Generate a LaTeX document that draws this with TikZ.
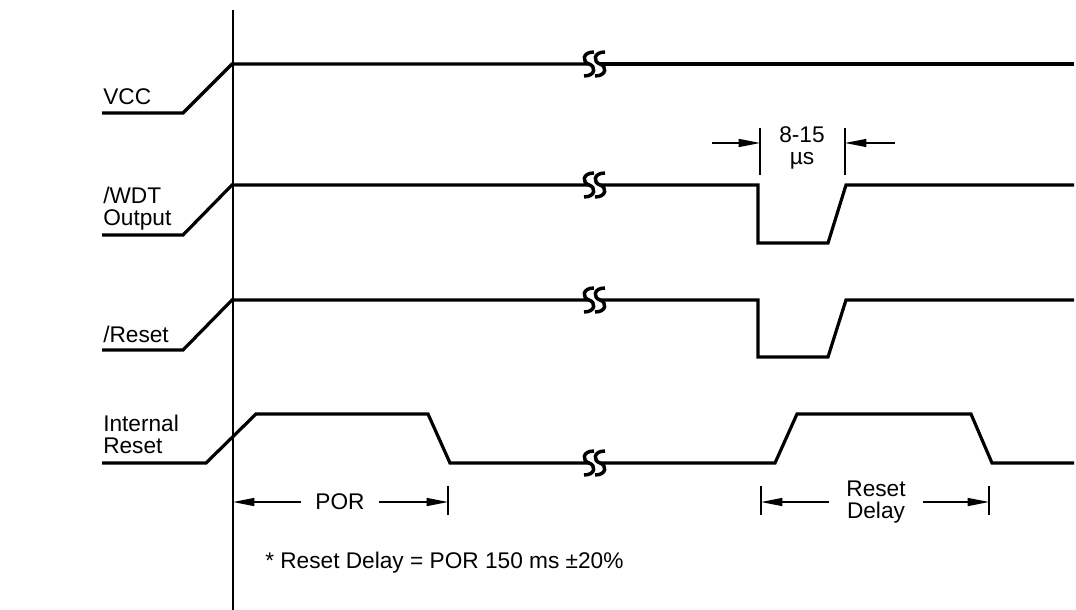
\documentclass[tikz,border=0pt]{standalone}
\usepackage{fontspec}
\setmainfont{Liberation Sans}
\usetikzlibrary{arrows.meta}

\tikzset{
  brk/.pic={
    \draw[line width=2.6pt] (-5,0) ++(5,-12) .. controls (-12,-12) and (-12,-2) .. (-5,0)
      .. controls (2,2) and (2,12) .. (-10,12);
    \draw[line width=2.6pt] (6,0) ++(5,-12) .. controls (-1,-12) and (-1,-2) .. (6,0)
      .. controls (13,2) and (13,12) .. (1,12);
  }
}

\begin{document}
\begin{tikzpicture}[line cap=butt,line join=miter,x=0.75pt,y=-0.75pt,
    sig/.style={line width=2.4pt},
    thin/.style={line width=1.1pt},
    dim/.style={line width=1.1pt,-{Triangle[length=16pt,width=6pt]}},
    lbl/.style={font=\fontsize{17}{16.5}\selectfont,align=left,inner sep=0pt}]
  \useasboundingbox (0,0) rectangle (1076,610);
  % time zero
  \draw[thin] (233,10) -- (233,610);
  % signal names
  \node[lbl,anchor=west] (vcc) at (103,97) {VCC};
  \node[lbl,anchor=west] (wdt) at (103,209) {/WDT\\Output};
  \node[lbl,anchor=west] (rst) at (103,334) {/Reset};
  \node[lbl,anchor=west] (irst) at (103,434) {Internal\\Reset};
  % VCC
  \draw[sig] (102,113) -- (183,113) -- (232,64) -- (589,64);
  \draw[sig] (600,64) -- (1074,64);
  % /WDT output
  \draw[sig] (102,235) -- (183,235) -- (232,185) -- (589,185);
  \draw[sig] (600,185) -- (758,185) -- (758,243) -- (828,243) -- (846,185) -- (1074,185);
  % /Reset
  \draw[sig] (102,350) -- (183,350) -- (232,300) -- (589,300);
  \draw[sig] (600,300) -- (758,300) -- (758,357) -- (828,357) -- (846,300) -- (1074,300);
  % internal reset
  \draw[sig] (102,463) -- (206,463) -- (256,414) -- (428,414) -- (450,463) -- (589,463);
  \draw[sig] (600,463) -- (775,463) -- (797,414) -- (971,414) -- (992,463) -- (1074,463);
  % breaks
  \foreach \y in {64,185,300,463}
    \pic at (594,\y) {brk};
  % pulse width
  \draw[thin] (760,128) -- (760,175);
  \draw[thin] (845,128) -- (845,175);
  \coordinate (pwL) at (760,143);
  \coordinate (pwR) at (845,143);
  \draw[dim] (712,143) -- (pwL);
  \draw[dim] (895,143) -- (pwR);
  \node[lbl,align=center] (pw) at (802,148) {8-15\\µs};
  % POR
  \draw[thin] (448,486) -- (448,515);
  \coordinate (porL) at (233,502);
  \coordinate (porR) at (448,502);
  \node[lbl,inner xsep=10.5pt] (por) at (340,502) {POR};
  \draw[dim] (por) -- (porL);
  \draw[dim] (por) -- (porR);
  % reset delay
  \draw[thin] (761,486) -- (761,515);
  \draw[thin] (989,486) -- (989,515);
  \coordinate (rdL) at (761,502);
  \coordinate (rdR) at (989,502);
  \node[lbl,align=center,inner xsep=13pt] (rd) at (876,502) {Reset\\Delay};
  \draw[dim] (rd) -- (rdL);
  \draw[dim] (rd) -- (rdR);
  % note
  \node[lbl,anchor=west] (note) at (265,563) {* Reset Delay = POR 150 ms ±20\%};
\end{tikzpicture}
\end{document}
